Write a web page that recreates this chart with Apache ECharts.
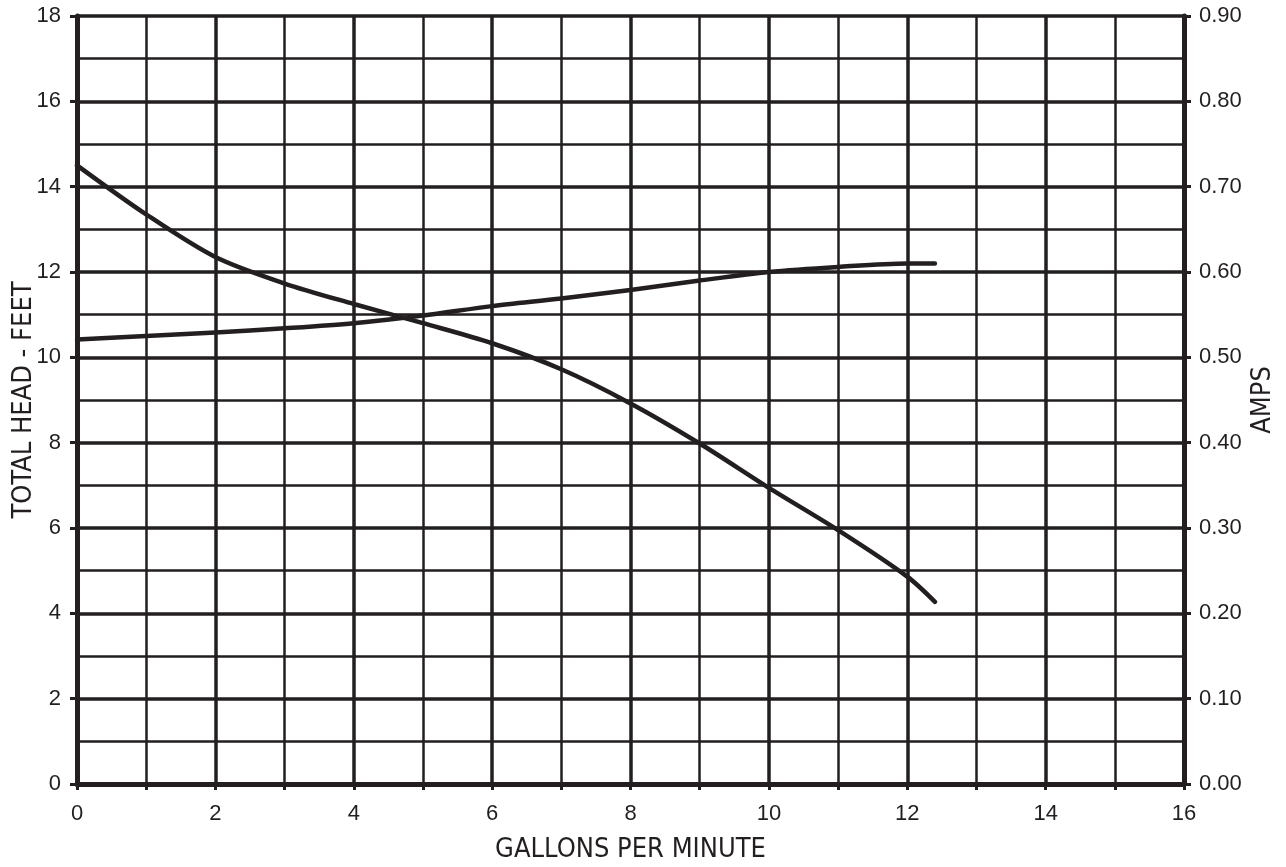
<!DOCTYPE html>
<html>
<head>
<meta charset="utf-8">
<script src="https://cdn.jsdelivr.net/npm/echarts@6/dist/echarts.min.js"></script>
<style>html,body{margin:0;padding:0;background:#fff;}#c{width:1286px;height:867px;}</style>
</head>
<body>
<div id="c"></div>
<script>
var gpm = [0, 1, 2, 3, 4, 5, 6, 7, 8, 9, 10, 11, 12, 12.4];
var headFeet = [14.5, 13.35, 12.35, 11.73, 11.25, 10.8, 10.33, 9.72, 8.92, 7.98, 6.94, 5.95, 4.86, 4.27];
var amps = [0.521, 0.525, 0.529, 0.534, 0.540, 0.549, 0.560, 0.569, 0.579, 0.590, 0.600, 0.606, 0.610, 0.610];
var xTitle = 'GALLONS PER MINUTE';
var yLeftTitle = 'TOTAL HEAD - FEET';
var yRightTitle = 'AMPS';

var INK = '#231f20';
var titleFont = 'DejaVu Sans Condensed, sans-serif';
var tickFont = 'Liberation Sans, Arial, Helvetica, sans-serif';

function pairs(xs, ys) { return xs.map(function (x, i) { return [x, ys[i]]; }); }

var chart = echarts.init(document.getElementById('c'), null, {renderer: 'canvas'});
chart.setOption({
  animation: false,
  backgroundColor: '#fff',
  grid: {left: 77, right: 102, top: 16, bottom: 83, containLabel: false, outerBoundsMode: 'none'},
  xAxis: {
    type: 'value', min: 0, max: 16, interval: 2,
    name: xTitle, nameLocation: 'middle', nameGap: 52, nameMoveOverlap: false,
    nameTextStyle: {fontFamily: titleFont, fontSize: 27, color: INK},
    axisLine: {show: true, onZero: false, lineStyle: {color: INK, width: 5}},
    axisTick: {show: true, inside: false, length: 6, lineStyle: {color: INK, width: 3}},
    minorTick: {show: true, splitNumber: 2, length: 6, lineStyle: {color: INK, width: 3}},
    axisLabel: {fontFamily: tickFont, fontSize: 22, color: INK, margin: 19},
    splitLine: {show: true, lineStyle: {color: INK, width: 3.5}},
    minorSplitLine: {show: true, lineStyle: {color: INK, width: 2.5}}
  },
  yAxis: [{
    type: 'value', min: 0, max: 18, interval: 2, position: 'left',
    name: yLeftTitle, nameLocation: 'middle', nameGap: 40, nameRotate: 90, nameMoveOverlap: false,
    nameTextStyle: {fontFamily: titleFont, fontSize: 27, color: INK},
    axisLine: {show: true, onZero: false, lineStyle: {color: INK, width: 5}},
    axisTick: {show: true, inside: false, length: 7, lineStyle: {color: INK, width: 3}},
    axisLabel: {fontFamily: tickFont, fontSize: 22, color: INK, margin: 16},
    splitLine: {show: true, lineStyle: {color: INK, width: 3.5}},
    minorTick: {show: false, splitNumber: 2},
    minorSplitLine: {show: true, lineStyle: {color: INK, width: 2.5}}
  }, {
    type: 'value', min: 0, max: 0.9, interval: 0.1, position: 'right',
    name: yRightTitle, nameLocation: 'middle', nameGap: 65, nameRotate: 90, nameMoveOverlap: false,
    nameTextStyle: {fontFamily: titleFont, fontSize: 27, color: INK},
    axisLine: {show: true, onZero: false, lineStyle: {color: INK, width: 5}},
    axisTick: {show: true, inside: false, length: 7, lineStyle: {color: INK, width: 3}},
    axisLabel: {fontFamily: tickFont, fontSize: 22, color: INK, margin: 15,
      formatter: function (v) { return v.toFixed(2); }},
    splitLine: {show: false}
  }],
  series: [{
    name: 'Head', type: 'line', yAxisIndex: 0, data: pairs(gpm, headFeet),
    smooth: 0.3, showSymbol: false, symbol: 'none',
    lineStyle: {color: INK, width: 4.5, cap: 'round', join: 'round'}, z: 5
  }, {
    name: 'Amps', type: 'line', yAxisIndex: 1, data: pairs(gpm, amps),
    smooth: 0.3, showSymbol: false, symbol: 'none',
    lineStyle: {color: INK, width: 4.5, cap: 'round', join: 'round'}, z: 5
  }]
});
</script>
</body>
</html>
